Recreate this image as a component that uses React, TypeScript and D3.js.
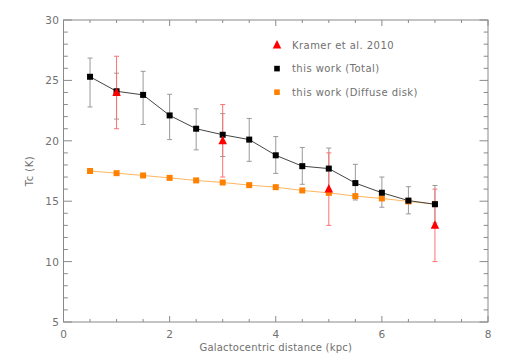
import React from 'react';
import * as d3 from 'd3';

// Galactocentric distance (kpc)
const distTotal = [0.5, 1, 1.5, 2, 2.5, 3, 3.5, 4, 4.5, 5, 5.5, 6, 6.5, 7];
const tcTotal = [25.3, 24.1, 23.8, 22.1, 21.0, 20.5, 20.1, 18.8, 17.9, 17.7, 16.5, 15.7, 15.05, 14.75];
const tcTotalHi = [26.85, 25.6, 25.75, 23.85, 22.65, 22.25, 21.85, 20.35, 19.45, 19.4, 18.05, 17.0, 16.2, 16.3];
const tcTotalLo = [22.8, 21.8, 21.35, 20.1, 19.25, 18.7, 18.3, 17.3, 16.4, 16.0, 15.1, 14.5, 13.95, 13.2];

const tcDiffuse = [17.5, 17.32, 17.13, 16.93, 16.72, 16.55, 16.33, 16.16, 15.89, 15.69, 15.42, 15.23, 14.98, 14.76];

const distKramer = [1, 3, 5, 7];
const tcKramer = [24, 20, 16, 13];
const tcKramerErr = [3, 3, 3, 3];

const xTicks = [0, 2, 4, 6, 8];
const yTicks = [5, 10, 15, 20, 25, 30];

const legendItems = [
  { label: 'Kramer et al. 2010', shape: 'tri', color: '#ff0000' },
  { label: 'this work (Total)', shape: 'sq', color: '#000000' },
  { label: 'this work (Diffuse disk)', shape: 'sq', color: '#ff8000' },
];

const W = 507;
const H = 362;
const margin = { left: 63.5, right: 19, top: 20, bottom: 40 };
const font = '"DejaVu Sans", sans-serif';
const axisColor = '#8a8a8a';
const textColor = '#707070';

export default function App() {
  const x = d3.scaleLinear().domain([0, 8]).range([margin.left, W - margin.right]);
  const y = d3.scaleLinear().domain([5, 30]).range([H - margin.bottom, margin.top]);
  const [x0, x1] = x.range();
  const [y0, y1] = y.range();

  const minorX = d3.range(0, 8.001, 0.5);
  const minorY = d3.range(5, 30.001, 1);
  const xMajLen = 6, xMinLen = 3, yMajLen = 8.5, yMinLen = 4.3;

  const line = d3.line<[number, number]>().x(d => x(d[0])).y(d => y(d[1]));
  const totalPts = distTotal.map((d, i) => [d, tcTotal[i]] as [number, number]);
  const diffPts = distTotal.map((d, i) => [d, tcDiffuse[i]] as [number, number]);

  const tri = (cx: number, cy: number, s: number) =>
    `M${cx},${cy - s * 0.6}L${cx + s / 2},${cy + s * 0.4}L${cx - s / 2},${cy + s * 0.4}Z`;

  const cap = 2.5;

  return (
    <svg width={W} height={H} style={{ position: 'absolute', left: 0, top: 0, background: '#fff' }}
      fontFamily={font}>
      {/* frame */}
      <rect x={x0} y={y1} width={x1 - x0} height={y0 - y1} fill="none" stroke={axisColor} strokeWidth={1} />
      {/* x ticks bottom & top */}
      {minorX.map(v => {
        const major = v % 2 === 0;
        const len = major ? xMajLen : xMinLen;
        return (
          <g key={'xt' + v} stroke={axisColor} strokeWidth={1}>
            <line x1={x(v)} x2={x(v)} y1={y0} y2={y0 - len} />
            <line x1={x(v)} x2={x(v)} y1={y1} y2={y1 + len} />
          </g>
        );
      })}
      {minorY.map(v => {
        const major = v % 5 === 0;
        const len = major ? yMajLen : yMinLen;
        return (
          <g key={'yt' + v} stroke={axisColor} strokeWidth={1}>
            <line x1={x0} x2={x0 + len} y1={y(v)} y2={y(v)} />
            <line x1={x1} x2={x1 - len} y1={y(v)} y2={y(v)} />
          </g>
        );
      })}
      {xTicks.map(v => (
        <text key={'xl' + v} x={x(v)} y={y0 + 16} textAnchor="middle" fontSize={10.5} fill={textColor}>{v}</text>
      ))}
      {yTicks.map(v => (
        <text key={'yl' + v} x={x0 - 4} y={y(v) + 4} textAnchor="end" fontSize={10.5} fill={textColor}
          letterSpacing={0.5}>{v}</text>
      ))}
      <text x={(x0 + x1) / 2} y={y0 + 29} textAnchor="middle" fontSize={10} fill={textColor} letterSpacing={0.2}>
        Galactocentric distance (kpc)
      </text>
      <text transform={`translate(${33},${(y0 + y1) / 2}) rotate(-90)`} textAnchor="middle" fontSize={10}
        fill={textColor} letterSpacing={0.5}>
        Tc (K)
      </text>

      {/* total error bars */}
      {distTotal.map((d, i) => (
        <g key={'te' + i} stroke="#999" strokeWidth={1}>
          <line x1={x(d)} x2={x(d)} y1={y(tcTotalHi[i])} y2={y(tcTotalLo[i])} />
          <line x1={x(d) - cap} x2={x(d) + cap} y1={y(tcTotalHi[i])} y2={y(tcTotalHi[i])} />
          <line x1={x(d) - cap} x2={x(d) + cap} y1={y(tcTotalLo[i])} y2={y(tcTotalLo[i])} />
        </g>
      ))}
      {/* Kramer error bars */}
      {distKramer.map((d, i) => (
        <g key={'ke' + i} stroke="#ff7070" strokeWidth={1}>
          <line x1={x(d)} x2={x(d)} y1={y(tcKramer[i] + tcKramerErr[i])} y2={y(tcKramer[i] - tcKramerErr[i])} />
          <line x1={x(d) - cap} x2={x(d) + cap} y1={y(tcKramer[i] + tcKramerErr[i])} y2={y(tcKramer[i] + tcKramerErr[i])} />
          <line x1={x(d) - cap} x2={x(d) + cap} y1={y(tcKramer[i] - tcKramerErr[i])} y2={y(tcKramer[i] - tcKramerErr[i])} />
        </g>
      ))}

      <path d={line(diffPts) || ''} fill="none" stroke="#ffb560" strokeWidth={1} />
      <path d={line(totalPts) || ''} fill="none" stroke="#444" strokeWidth={1} />

      {diffPts.map((p, i) => (
        <rect key={'ds' + i} x={x(p[0]) - 3} y={y(p[1]) - 3} width={6} height={6} fill="#ff8000" />
      ))}
      {totalPts.map((p, i) => (
        <rect key={'ts' + i} x={x(p[0]) - 3} y={y(p[1]) - 3} width={6} height={6} fill="#000" />
      ))}
      {distKramer.map((d, i) => (
        <path key={'kt' + i} d={tri(x(d), y(tcKramer[i]), 8.5)} fill="#ff0000" />
      ))}

      {/* legend */}
      {legendItems.map((it, i) => {
        const ly = 45 + i * 23.6;
        const lx = 277;
        return (
          <g key={'lg' + i}>
            {it.shape === 'tri'
              ? <path d={tri(lx, ly, 8.5)} fill={it.color} />
              : <rect x={lx - 2.8} y={ly - 2.8} width={5.6} height={5.6} fill={it.color} />}
            <text x={lx + 15} y={ly + 3.5} fontSize={10} fill={textColor} letterSpacing={0.45}>{it.label}</text>
          </g>
        );
      })}
    </svg>
  );
}
